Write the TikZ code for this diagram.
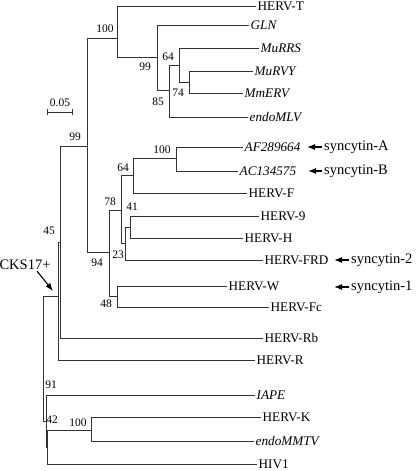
\documentclass[tikz,border=0pt]{standalone}
\usepackage{fontspec}
\setmainfont{Liberation Serif}
\usetikzlibrary{arrows.meta}

\tikzset{
	branch/.style={draw=black!80, line width=0.8pt},
	taxon/.style={anchor=west, inner sep=1.5pt, font=\fontsize{13.2}{14}\selectfont},
	boot/.style={inner sep=0pt, font=\fontsize{11.5}{12}\selectfont},
	callout/.style={anchor=west, inner sep=2pt, font=\fontsize{14.5}{16}\selectfont},
	pointer/.style={->, line width=1.1pt},
}

\begin{document}
\begin{tikzpicture}[x=1pt, y=-1pt, >={Latex[length=8pt,width=6pt]}]
		\useasboundingbox (0,0) rectangle (415,471);
		% inner nodes of the tree
		\coordinate (root) at (43,296);
		\coordinate (nA) at (58,296);
		\coordinate (n45) at (60,242);
		\coordinate (n99) at (87,146);
		\coordinate (nT) at (117,38);
		\coordinate (n99b) at (157,57);
		\coordinate (n85) at (169,90);
		\coordinate (n64a) at (179,65);
		\coordinate (n74) at (189,82);
		\coordinate (n94) at (109,252);
		\coordinate (n78) at (121,210);
		\coordinate (n64b) at (133,175);
		\coordinate (n100b) at (176,158);
		\coordinate (n23) at (125,243);
		\coordinate (n41) at (130,227);
		\coordinate (n48) at (117,296);
		\coordinate (n91) at (46,421);
		\coordinate (n42) at (47,447);
		\coordinate (n100c) at (91,430);
		% leaves
		\node[taxon] (hervt) at (256,6) {HERV-T};
		\node[taxon] (gln) at (249,25) {\textit{GLN}};
		\node[taxon] (murrs) at (259,48) {\textit{MuRRS}};
		\node[taxon] (murvy) at (253,71) {\textit{MuRVY}};
		\node[taxon] (mmerv) at (243,93) {\textit{MmERV}};
		\node[taxon] (endomlv) at (248,117) {\textit{endoMLV}};
		\node[taxon] (af) at (243,147) {\textit{AF289664}};
		\node[taxon] (ac) at (238,171) {\textit{AC134575}};
		\node[taxon] (hervf) at (247,193) {HERV-F};
		\node[taxon] (herv9) at (259,216) {HERV-9};
		\node[taxon] (hervh) at (243,238) {HERV-H};
		\node[taxon] (hervfrd) at (263,260) {HERV-FRD};
		\node[taxon] (hervw) at (227,286) {HERV-W};
		\node[taxon] (hervfc) at (269,307) {HERV-Fc};
		\node[taxon] (hervrb) at (263,338) {HERV-Rb};
		\node[taxon] (hervr) at (255,360) {HERV-R};
		\node[taxon] (iape) at (255,395) {\textit{IAPE}};
		\node[taxon] (hervk) at (261,417) {HERV-K};
		\node[taxon] (endommtv) at (254,441) {\textit{endoMMTV}};
		\node[taxon] (hiv) at (257,464) {HIV1};
		% branches
		\draw[branch] (root) |- (nA);
		\draw[branch] (root) |- (n91);
		\draw[branch] (nA) |- (n45);
		\draw[branch] (nA) |- (hervr.west);
		\draw[branch] (n45) |- (n99);
		\draw[branch] (n45) |- (hervrb.west);
		\draw[branch] (n99) |- (nT);
		\draw[branch] (n99) |- (n94);
		\draw[branch] (nT) |- (hervt.west);
		\draw[branch] (nT) |- (n99b);
		\draw[branch] (n99b) |- (gln.west);
		\draw[branch] (n99b) |- (n85);
		\draw[branch] (n85) |- (n64a);
		\draw[branch] (n85) |- (endomlv.west);
		\draw[branch] (n64a) |- (murrs.west);
		\draw[branch] (n64a) |- (n74);
		\draw[branch] (n74) |- (murvy.west);
		\draw[branch] (n74) |- (mmerv.west);
		\draw[branch] (n94) |- (n78);
		\draw[branch] (n94) |- (n48);
		\draw[branch] (n78) |- (n64b);
		\draw[branch] (n78) |- (n23);
		\draw[branch] (n64b) |- (n100b);
		\draw[branch] (n64b) |- (hervf.west);
		\draw[branch] (n100b) |- (af.west);
		\draw[branch] (n100b) |- (ac.west);
		\draw[branch] (n23) |- (n41);
		\draw[branch] (n23) |- (hervfrd.west);
		\draw[branch] (n41) |- (herv9.west);
		\draw[branch] (n41) |- (hervh.west);
		\draw[branch] (n48) |- (hervw.west);
		\draw[branch] (n48) |- (hervfc.west);
		\draw[branch] (n91) |- (iape.west);
		\draw[branch] (n91) |- (n42);
		\draw[branch] (n42) |- (n100c);
		\draw[branch] (n42) |- (hiv.west);
		\draw[branch] (n100c) |- (hervk.west);
		\draw[branch] (n100c) |- (endommtv.west);
		% bootstrap values
		\node[boot] (bT) at (105,29) {100};
		\node[boot] (b99b) at (145,67) {99};
		\node[boot] (b64a) at (168,57) {64};
		\node[boot] (b74) at (178,93) {74};
		\node[boot] (b85) at (158,102) {85};
		\node[boot] (b99) at (75,137) {99};
		\node[boot] (b100b) at (162,150) {100};
		\node[boot] (b64b) at (123,168) {64};
		\node[boot] (b78) at (110,202) {78};
		\node[boot] (b41) at (132,207) {41};
		\node[boot] (b23) at (118,255) {23};
		\node[boot] (b94) at (97,263) {94};
		\node[boot] (b48) at (106,304) {48};
		\node[boot] (b45) at (49,231) {45};
		\node[boot] (b91) at (51,385) {91};
		\node[boot] (b42) at (52,420) {42};
		\node[boot] (b100c) at (78,423) {100};
		% scale bar
		\coordinate (barl) at (47,112);
		\coordinate (barr) at (73,112);
		\draw[|-|, branch] (barl) -- (barr);
		\node[boot] (bar) at (60,103) {0.05};
		% syncytins
		\coordinate (pA) at (307,147);
		\coordinate (pB) at (308,171);
		\coordinate (p2) at (334,260);
		\coordinate (p1) at (334,287);
		\node[callout] (sA) at (322,147) {syncytin-A};
		\node[callout] (sB) at (322,171) {syncytin-B};
		\node[callout] (s2) at (349,260) {syncytin-2};
		\node[callout] (s1) at (349,287) {syncytin-1};
		\draw[pointer] (sA.west) -- (pA);
		\draw[pointer] (sB.west) -- (pB);
		\draw[pointer] (s2.west) -- (p2);
		\draw[pointer] (s1.west) -- (p1);
		% CKS17+ motif
		\node[font=\fontsize{14.5}{16}\selectfont, inner sep=1pt] (cks) at (25,265) {CKS17+};
		\coordinate (ckstip) at (53,291);
		\draw[pointer] ([xshift=12pt]cks.south) -- (ckstip);
\end{tikzpicture}
\end{document}
